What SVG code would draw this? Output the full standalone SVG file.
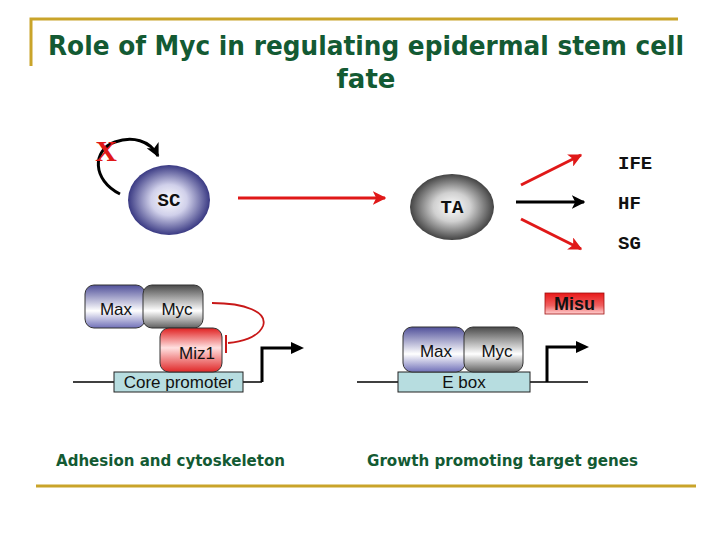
<svg xmlns="http://www.w3.org/2000/svg" width="720" height="540" viewBox="0 0 720 540">
<style>
.gold{stroke:#c9a42a;stroke-width:3;fill:none}
.title{font-family:"DejaVu Sans",sans-serif;font-size:26px;fill:#135a33;font-weight:bold}
.cap{font-family:"DejaVu Sans",sans-serif;font-size:15px;fill:#135a33;font-weight:bold}
.mono{font-family:"Liberation Mono",monospace;font-weight:bold;font-size:19px;fill:#111}
.box{font-family:"Liberation Sans",Arial,sans-serif;font-size:17px;fill:#111}
.red{stroke:#e01818;stroke-width:3;fill:none}
.blk{stroke:#000;stroke-width:3;fill:none}
.dna{stroke:#000;stroke-width:1.3;fill:none}
.prot{stroke:#333;stroke-width:1}
</style>
<defs>
<radialGradient id="gSC" cx="50%" cy="50%" r="55%"><stop offset="0" stop-color="#ffffff"/><stop offset="0.4" stop-color="#d0d0ea"/><stop offset="1" stop-color="#1e1e70"/></radialGradient>
<radialGradient id="gTA" cx="50%" cy="50%" r="55%"><stop offset="0" stop-color="#ffffff"/><stop offset="0.4" stop-color="#d0d0d0"/><stop offset="1" stop-color="#2a2a2a"/></radialGradient>
<linearGradient id="gMax" x1="0" y1="0" x2="0" y2="1"><stop offset="0" stop-color="#50509a"/><stop offset="0.6" stop-color="#ffffff"/><stop offset="1" stop-color="#7070b8"/></linearGradient>
<linearGradient id="gMyc" x1="0" y1="0" x2="0" y2="1"><stop offset="0" stop-color="#4a4a4a"/><stop offset="0.6" stop-color="#ffffff"/><stop offset="1" stop-color="#606060"/></linearGradient>
<linearGradient id="gMiz" x1="0" y1="0" x2="0" y2="1"><stop offset="0" stop-color="#e02020"/><stop offset="0.45" stop-color="#ffe0e0"/><stop offset="1" stop-color="#e02828"/></linearGradient>
<linearGradient id="gMisu" x1="0" y1="0" x2="0" y2="1"><stop offset="0" stop-color="#e81818"/><stop offset="0.6" stop-color="#f06060"/><stop offset="1" stop-color="#ffd0d0"/></linearGradient>
<marker id="ahR" viewBox="0 0 10 10" refX="9" refY="5" markerWidth="4.5" markerHeight="4.5" orient="auto" markerUnits="strokeWidth"><path d="M0,0 L10,5 L0,10 L2.5,5 Z" fill="#e01818"/></marker>
<marker id="ahK" viewBox="0 0 10 10" refX="9" refY="5" markerWidth="4.5" markerHeight="4.5" orient="auto" markerUnits="strokeWidth"><path d="M0,0 L10,5 L0,10 L2.5,5 Z" fill="#000"/></marker>
</defs>

<g id="frame">
<path class="gold" d="M31,66 V19 H678"/>
<path class="gold" d="M36,486 H696"/>
</g>

<g id="title">
<text class="title" x="366" y="55" text-anchor="middle" textLength="636" lengthAdjust="spacingAndGlyphs">Role of Myc in regulating epidermal stem cell</text>
<text class="title" x="366" y="88" text-anchor="middle">fate</text>
</g>

<g id="connectors">
<path class="blk" d="M120,194 C92,180 92,150 115,142 C132,136 150,140 158,156" stroke-width="2.5" marker-end="url(#ahK)"/>
<line class="red" x1="238" y1="198" x2="385" y2="198" marker-end="url(#ahR)"/>
<line class="red" x1="521" y1="185" x2="581" y2="155" marker-end="url(#ahR)"/>
<line class="blk" x1="516" y1="202" x2="584" y2="202" marker-end="url(#ahK)"/>
<line class="red" x1="521" y1="219" x2="581" y2="249" marker-end="url(#ahR)"/>
<path d="M212,303 C245,303 268,312 263,326 C258,338 240,342 228,343" stroke="#c81818" stroke-width="1.8" fill="none"/>
<line x1="226" y1="335" x2="226" y2="353" stroke="#c81818" stroke-width="2"/>
</g>

<g id="x-mark">
<text x="106" y="161" text-anchor="middle" font-family="Liberation Serif,serif" font-weight="bold" font-size="30" fill="#e01818">X</text>
</g>

<g id="SC">
<ellipse cx="169" cy="200" rx="41" ry="35" fill="url(#gSC)"/>
<text class="mono" x="169" y="206" text-anchor="middle">SC</text>
</g>

<g id="TA">
<ellipse cx="452" cy="207" rx="42" ry="33" fill="url(#gTA)"/>
<text class="mono" x="452" y="213" text-anchor="middle">TA</text>
</g>

<g id="IFE"><text class="mono" x="618" y="169">IFE</text></g>
<g id="HF"><text class="mono" x="618" y="209">HF</text></g>
<g id="SG"><text class="mono" x="618" y="249">SG</text></g>

<g id="left-gene">
<line class="dna" x1="73" y1="382" x2="262" y2="382"/>
<path d="M262,382 V348 H293" stroke="#000" stroke-width="3" fill="none"/>
<path d="M291,342 L304,348 L291,354 Z" fill="#000"/>
<rect x="114" y="372" width="129" height="20" fill="#b7dde0" stroke="#222" stroke-width="1"/>
<text class="box" x="178.5" y="388" text-anchor="middle">Core promoter</text>
</g>
<g id="Max-left">
<rect class="prot" x="85" y="285" width="60" height="43" rx="9" fill="url(#gMax)"/>
<text class="box" x="116" y="315" text-anchor="middle">Max</text>
</g>
<g id="Myc-left">
<rect class="prot" x="143" y="285" width="60" height="43" rx="9" fill="url(#gMyc)"/>
<text class="box" x="177" y="315" text-anchor="middle">Myc</text>
</g>
<g id="Miz1">
<rect class="prot" x="160" y="328" width="62" height="44" rx="9" fill="url(#gMiz)"/>
<text class="box" x="197" y="359" text-anchor="middle">Miz1</text>
</g>

<g id="right-gene">
<line class="dna" x1="357" y1="382" x2="588" y2="382"/>
<path d="M547,382 V347 H578" stroke="#000" stroke-width="3" fill="none"/>
<path d="M576,341 L589,347 L576,353 Z" fill="#000"/>
<rect x="398" y="372" width="132" height="20" fill="#b7dde0" stroke="#222" stroke-width="1"/>
<text class="box" x="464" y="388" text-anchor="middle">E box</text>
</g>
<g id="Max-right">
<rect class="prot" x="403" y="327" width="62" height="45" rx="9" fill="url(#gMax)"/>
<text class="box" x="436" y="357" text-anchor="middle">Max</text>
</g>
<g id="Myc-right">
<rect class="prot" x="464" y="327" width="59" height="45" rx="9" fill="url(#gMyc)"/>
<text class="box" x="497" y="357" text-anchor="middle">Myc</text>
</g>
<g id="Misu">
<rect x="545" y="293" width="59" height="21" fill="url(#gMisu)" stroke="#a01010" stroke-width="0.8"/>
<text x="574.5" y="310" text-anchor="middle" font-family="Liberation Sans,Arial,sans-serif" font-weight="bold" font-size="18" fill="#111">Misu</text>
</g>

<g id="captions">
<text class="cap" x="56" y="466" textLength="229" lengthAdjust="spacingAndGlyphs">Adhesion and cytoskeleton</text>
<text class="cap" x="367" y="466" textLength="271" lengthAdjust="spacingAndGlyphs">Growth promoting target genes</text>
</g>
</svg>
